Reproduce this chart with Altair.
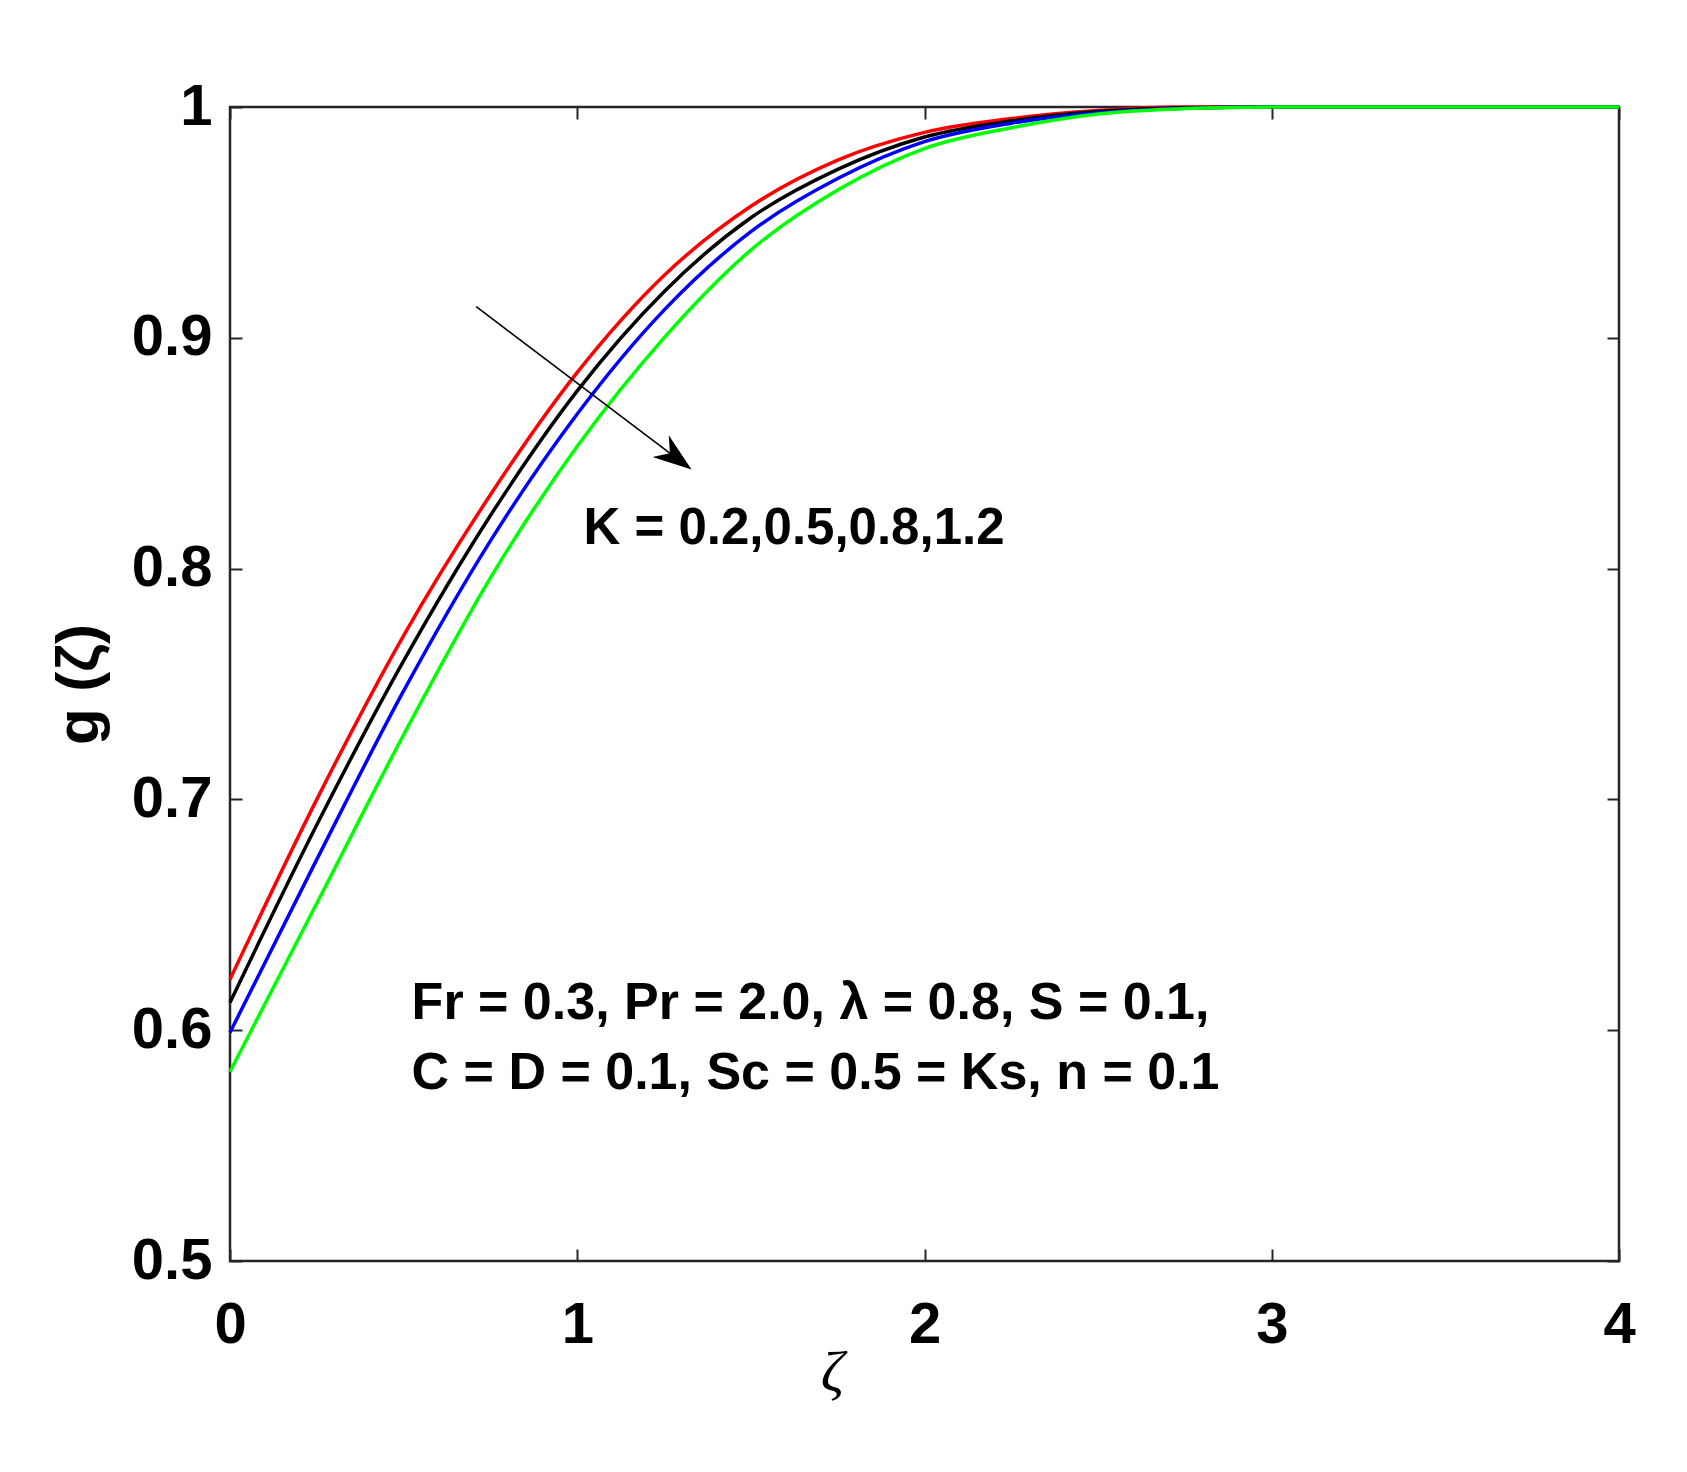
import altair as alt
import pandas as pd

# ---- data ----
zeta = [0.0, 0.25, 0.5, 0.75, 1.0, 1.25, 1.5, 1.75, 2.0, 2.25, 2.5, 2.75, 3.0, 3.5, 4.0]
g_K02 = [0.622, 0.700, 0.771, 0.832, 0.885, 0.927, 0.957, 0.977, 0.989, 0.995, 0.9985, 1.0, 1.0, 1.0, 1.0]
g_K05 = [0.612, 0.689, 0.760, 0.823, 0.877, 0.920, 0.952, 0.973, 0.987, 0.994, 0.998, 0.9997, 1.0, 1.0, 1.0]
g_K08 = [0.599, 0.674, 0.747, 0.812, 0.867, 0.912, 0.946, 0.969, 0.985, 0.993, 0.9975, 0.9995, 1.0, 1.0, 1.0]
g_K12 = [0.582, 0.655, 0.728, 0.796, 0.853, 0.900, 0.938, 0.964, 0.982, 0.991, 0.997, 0.9993, 1.0, 1.0, 1.0]
k_labels = ["0.2", "0.5", "0.8", "1.2"]
k_colors = ["#ff0000", "#000000", "#0000ff", "#00ff00"]

x_ticks = [0, 1, 2, 3, 4]
y_ticks = [0.5, 0.6, 0.7, 0.8, 0.9, 1.0]

# annotations (data coordinates)
k_text = ["K = 0.2,0.5,0.8,1.2"]
k_text_x = [1.018]
k_text_y = [0.8172]
param_text = ["Fr = 0.3, Pr = 2.0, λ = 0.8, S = 0.1,", "C = D = 0.1, Sc = 0.5 = Ks, n = 0.1"]
param_x = [0.523, 0.523]
param_y = [0.6118, 0.5814]
arrow_start = [0.709, 0.9135]
arrow_head = [1.2846, 0.848]

# ---- layout ----
W, H = 1389, 1154
FONT = "Liberation Sans"
AXC = "#262626"

rows = []
for lab, ys in zip(k_labels, [g_K02, g_K05, g_K08, g_K12]):
    for xv, yv in zip(zeta, ys):
        rows.append({"zeta": xv, "g": yv, "K": lab})
df = pd.DataFrame(rows)

xscale = alt.Scale(domain=[0, 4], nice=False, zero=False)
yscale = alt.Scale(domain=[0.5, 1.0], nice=False, zero=False)

lines = alt.Chart(df).mark_line(strokeWidth=3.5, interpolate="monotone").encode(
    x=alt.X("zeta:Q", scale=xscale, axis=alt.Axis(
        orient="bottom", values=x_ticks, format="d", ticks=False, domain=False, grid=False,
        labelFont=FONT, labelFontSize=58, labelFontWeight="bold", labelColor="black",
        labelPadding=35, labelFlush=False, labelOverlap=False,
        title="ζ", titleFont="Liberation Serif", titleFontStyle="italic", titleFontWeight="normal",
        titleFontSize=58, titleColor="black", titleX=602, titleY=112,
        titleAlign="center", titleBaseline="middle")),
    y=alt.Y("g:Q", scale=yscale, axis=alt.Axis(
        orient="left", values=y_ticks, format="~g", ticks=False, domain=False, grid=False,
        labelFont=FONT, labelFontSize=58, labelFontWeight="bold", labelColor="black",
        labelPadding=18, labelFlush=False, labelOverlap=False,
        title="g (ζ)", titleFont=FONT, titleFontWeight="bold", titleFontSize=60,
        titleColor="black", titleAngle=270, titleX=-133, titleY=H / 2,
        titleAlign="center", titleBaseline="alphabetic")),
    color=alt.Color("K:N", scale=alt.Scale(domain=k_labels, range=k_colors), legend=None),
    order=alt.Order("zeta:Q"),
)

# inward ticks: bottom edge + left edge
kdf = pd.DataFrame({"t": k_text, "x": k_text_x, "y": k_text_y})
k_layer = alt.Chart(kdf).mark_text(
    align="left", baseline="middle", font=FONT, fontSize=51, fontWeight="bold", color="black"
).encode(
    x=alt.X("x:Q", scale=xscale, axis=alt.Axis(
        orient="top", offset=-H, values=x_ticks, labels=False, ticks=True, tickSize=12,
        tickWidth=2, tickColor=AXC, domain=False, grid=False, title=None)),
    y=alt.Y("y:Q", scale=yscale, axis=alt.Axis(
        orient="right", offset=-W, values=y_ticks, labels=False, ticks=True, tickSize=12,
        tickWidth=2, tickColor=AXC, domain=False, grid=False, title=None)),
    text="t:N",
)

# inward ticks: top edge + right edge
pdf = pd.DataFrame({"t": param_text, "x": param_x, "y": param_y})
p_layer = alt.Chart(pdf).mark_text(
    align="left", baseline="middle", font=FONT, fontSize=52, fontWeight="bold", color="black"
).encode(
    x=alt.X("x:Q", scale=xscale, axis=alt.Axis(
        orient="bottom", offset=-H, values=x_ticks, labels=False, ticks=True, tickSize=12,
        tickWidth=2, tickColor=AXC, domain=False, grid=False, title=None)),
    y=alt.Y("y:Q", scale=yscale, axis=alt.Axis(
        orient="left", offset=-W, values=y_ticks, labels=False, ticks=True, tickSize=12,
        tickWidth=2, tickColor=AXC, domain=False, grid=False, title=None)),
    text="t:N",
)

adf = pd.DataFrame({"x": [arrow_start[0]], "y": [arrow_start[1]],
                    "x2": [arrow_head[0]], "y2": [arrow_head[1]]})
arrow_line = alt.Chart(adf).mark_rule(color="black", strokeWidth=1.6).encode(
    x=alt.X("x:Q", scale=xscale, axis=None),
    y=alt.Y("y:Q", scale=yscale, axis=None),
    x2="x2:Q", y2="y2:Q",
)
hdf = pd.DataFrame({"x": [arrow_head[0]], "y": [arrow_head[1]]})
arrow_tip = alt.Chart(hdf).mark_point(
    shape="M 1 0 L -1 -0.7 L -0.4 0 L -1 0.7 Z", filled=True, color="black",
    opacity=1, size=1500, angle=37, strokeWidth=0
).encode(
    x=alt.X("x:Q", scale=xscale, axis=None),
    y=alt.Y("y:Q", scale=yscale, axis=None),
)

chart = alt.layer(lines, k_layer, p_layer, arrow_line, arrow_tip).resolve_axis(
    x="independent", y="independent"
).properties(
    width=W, height=H,
    padding={"left": 222, "top": 99, "right": 60, "bottom": 203},
    autosize=alt.AutoSizeParams(type="none"),
    background="white",
).configure_view(stroke=AXC, strokeWidth=2.5)

chart.save("out.html", embed_options={"renderer": "svg", "actions": False})
